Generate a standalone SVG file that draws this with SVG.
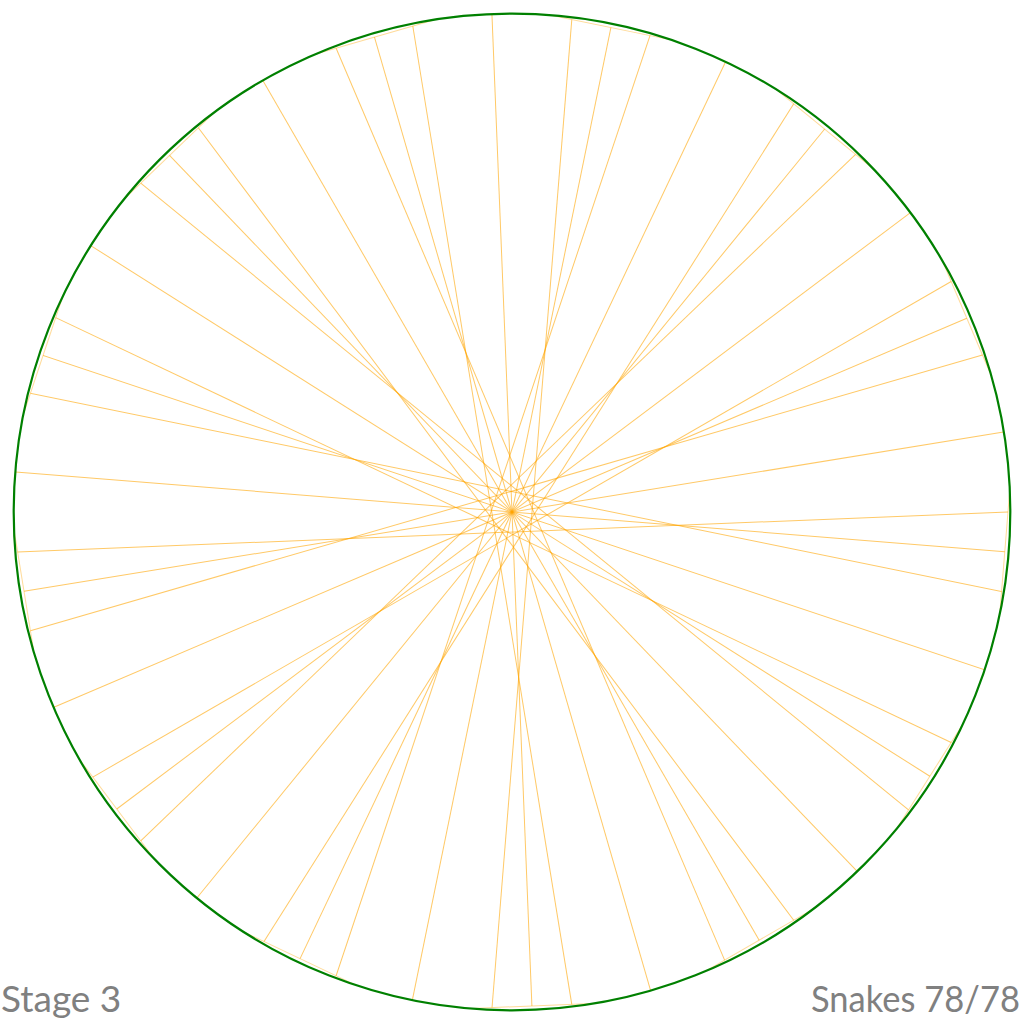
<svg xmlns="http://www.w3.org/2000/svg" width="1024" height="1024" viewBox="0 0 1024 1024">
<style>
.rim{fill:none;stroke:#008000;stroke-width:2.2}
.spoke{stroke:#FFA500;stroke-width:1;stroke-opacity:0.6;fill:none}
.edge{stroke:#FFA500;stroke-width:1;stroke-opacity:0.4;fill:none}
.lbl{font-family:Lato,"Liberation Sans",sans-serif;font-size:37px;fill:#808080}
</style>
<rect width="1024" height="1024" fill="#ffffff"/>
<g id="connectors">
<g id="unit0" transform="rotate(0 512 512)"><line class="edge" x1="1009.60" y1="491.95" x2="999.94" y2="611.61"/><line class="spoke" x1="984.37" y1="669.70" x2="43.07" y2="355.45"/><line class="spoke" x1="1001.56" y1="591.56" x2="30.43" y2="393.30"/></g>
<g id="unit1" transform="rotate(27.6923 512 512)"><line class="edge" x1="1009.60" y1="491.95" x2="999.94" y2="611.61"/><line class="spoke" x1="984.37" y1="669.70" x2="43.07" y2="355.45"/><line class="spoke" x1="1001.56" y1="591.56" x2="30.43" y2="393.30"/></g>
<g id="unit2" transform="rotate(55.3846 512 512)"><line class="edge" x1="1009.60" y1="491.95" x2="999.94" y2="611.61"/><line class="spoke" x1="984.37" y1="669.70" x2="43.07" y2="355.45"/><line class="spoke" x1="1001.56" y1="591.56" x2="30.43" y2="393.30"/></g>
<g id="unit3" transform="rotate(83.0769 512 512)"><line class="edge" x1="1009.60" y1="491.95" x2="999.94" y2="611.61"/><line class="spoke" x1="984.37" y1="669.70" x2="43.07" y2="355.45"/><line class="spoke" x1="1001.56" y1="591.56" x2="30.43" y2="393.30"/></g>
<g id="unit4" transform="rotate(110.7692 512 512)"><line class="edge" x1="1009.60" y1="491.95" x2="999.94" y2="611.61"/><line class="spoke" x1="984.37" y1="669.70" x2="43.07" y2="355.45"/><line class="spoke" x1="1001.56" y1="591.56" x2="30.43" y2="393.30"/></g>
<g id="unit5" transform="rotate(138.4615 512 512)"><line class="edge" x1="1009.60" y1="491.95" x2="999.94" y2="611.61"/><line class="spoke" x1="984.37" y1="669.70" x2="43.07" y2="355.45"/><line class="spoke" x1="1001.56" y1="591.56" x2="30.43" y2="393.30"/></g>
<g id="unit6" transform="rotate(166.1538 512 512)"><line class="edge" x1="1009.60" y1="491.95" x2="999.94" y2="611.61"/><line class="spoke" x1="984.37" y1="669.70" x2="43.07" y2="355.45"/><line class="spoke" x1="1001.56" y1="591.56" x2="30.43" y2="393.30"/></g>
<g id="unit7" transform="rotate(193.8462 512 512)"><line class="edge" x1="1009.60" y1="491.95" x2="999.94" y2="611.61"/><line class="spoke" x1="984.37" y1="669.70" x2="43.07" y2="355.45"/><line class="spoke" x1="1001.56" y1="591.56" x2="30.43" y2="393.30"/></g>
<g id="unit8" transform="rotate(221.5385 512 512)"><line class="edge" x1="1009.60" y1="491.95" x2="999.94" y2="611.61"/><line class="spoke" x1="984.37" y1="669.70" x2="43.07" y2="355.45"/><line class="spoke" x1="1001.56" y1="591.56" x2="30.43" y2="393.30"/></g>
<g id="unit9" transform="rotate(249.2308 512 512)"><line class="edge" x1="1009.60" y1="491.95" x2="999.94" y2="611.61"/><line class="spoke" x1="984.37" y1="669.70" x2="43.07" y2="355.45"/><line class="spoke" x1="1001.56" y1="591.56" x2="30.43" y2="393.30"/></g>
<g id="unit10" transform="rotate(276.9231 512 512)"><line class="edge" x1="1009.60" y1="491.95" x2="999.94" y2="611.61"/><line class="spoke" x1="984.37" y1="669.70" x2="43.07" y2="355.45"/><line class="spoke" x1="1001.56" y1="591.56" x2="30.43" y2="393.30"/></g>
<g id="unit11" transform="rotate(304.6154 512 512)"><line class="edge" x1="1009.60" y1="491.95" x2="999.94" y2="611.61"/><line class="spoke" x1="984.37" y1="669.70" x2="43.07" y2="355.45"/><line class="spoke" x1="1001.56" y1="591.56" x2="30.43" y2="393.30"/></g>
<g id="unit12" transform="rotate(332.3077 512 512)"><line class="edge" x1="1009.60" y1="491.95" x2="999.94" y2="611.61"/><line class="spoke" x1="984.37" y1="669.70" x2="43.07" y2="355.45"/><line class="spoke" x1="1001.56" y1="591.56" x2="30.43" y2="393.30"/></g>
</g>
<g id="circle"><circle class="rim" cx="512" cy="512" r="498.3"/></g>
<g id="labels">
<text class="lbl" x="1" y="1012">Stage 3</text>
<text class="lbl" x="1020" y="1012" text-anchor="end" textLength="209" lengthAdjust="spacingAndGlyphs">Snakes 78/78</text>
</g>
</svg>
